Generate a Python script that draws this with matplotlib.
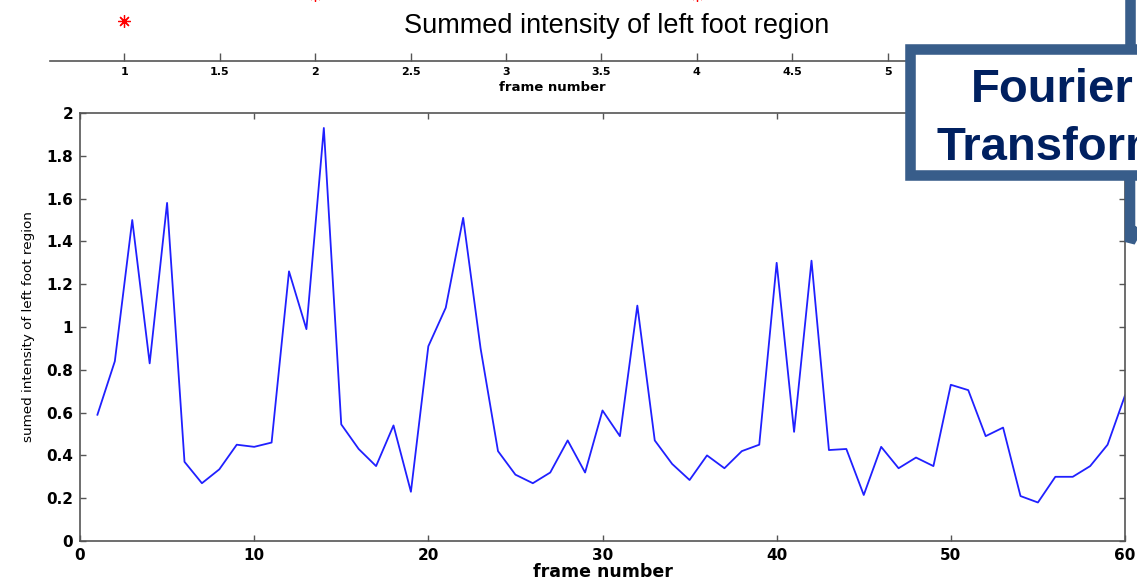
import matplotlib
matplotlib.use("Agg")
import matplotlib.pyplot as plt
from matplotlib.patches import Rectangle

# Bottom panel: summed intensity per frame
frames = list(range(1, 61))
intensity = [0.59, 0.84, 1.50, 0.83, 1.58, 0.37, 0.27, 0.335, 0.45, 0.44,
             0.46, 1.26, 0.99, 1.93, 0.545, 0.43, 0.35, 0.54, 0.23, 0.91,
             1.09, 1.51, 0.90, 0.42, 0.31, 0.27, 0.32, 0.47, 0.32, 0.61,
             0.49, 1.10, 0.47, 0.36, 0.285, 0.40, 0.34, 0.42, 0.45, 1.30,
             0.51, 1.31, 0.425, 0.43, 0.215, 0.44, 0.34, 0.39, 0.35, 0.73,
             0.705, 0.49, 0.53, 0.21, 0.18, 0.30, 0.30, 0.35, 0.45, 0.68]

# Top strip: only the lower edge of an earlier plot is visible
top_frames = [1, 2, 4]
top_values = [0.66, 1.09, 1.09]
top_ticks = [1, 1.5, 2, 2.5, 3, 3.5, 4, 4.5, 5]

W, H = 1137, 578
fig = plt.figure(figsize=(W / 100, H / 100), dpi=100)
fig.patch.set_facecolor("white")

spine_col = "#555555"

# ---- top strip axes ----
axt = fig.add_axes([50 / W, 1 - 61 / H, (1054 - 50) / W, 61 / H])
axt.plot(top_frames, top_values, linestyle="none", marker=(8, 2, 0),
         markersize=9, color="red", markeredgewidth=0.9, clip_on=False)
axt.set_xlim(0.612, 5.87)
axt.set_ylim(0, 1)
for s in ["top", "left", "right"]:
    axt.spines[s].set_visible(False)
axt.spines["bottom"].set_color(spine_col)
axt.spines["bottom"].set_linewidth(1.2)
axt.set_xticks(top_ticks)
axt.set_xticklabels([f"{t:g}" for t in top_ticks], fontsize=8, fontweight="bold")
axt.set_yticks([])
axt.tick_params(axis="x", direction="in", length=5.8, width=1, color=spine_col, pad=4.5)
axt.set_xlabel("frame number", fontsize=9.5, fontweight="bold", labelpad=2.5)
axt.patch.set_alpha(0)

# ---- main axes ----
ax = fig.add_axes([80 / W, 1 - 541 / H, (1125 - 80) / W, (541 - 113) / H])
ax.plot(frames, intensity, color="#2020ff", linewidth=1.3)
ax.set_xlim(0, 60)
ax.set_ylim(0, 2)
ax.set_xticks(range(0, 61, 10))
ax.set_yticks([0, 0.2, 0.4, 0.6, 0.8, 1, 1.2, 1.4, 1.6, 1.8, 2])
ax.set_yticklabels(["0", "0.2", "0.4", "0.6", "0.8", "1", "1.2", "1.4", "1.6", "1.8", "2"])
for s in ax.spines.values():
    s.set_color(spine_col)
    s.set_linewidth(1.2)
ax.tick_params(direction="in", top=True, right=True, length=4.5, width=1,
               color=spine_col, labelsize=11, pad=5)
for lab in ax.get_xticklabels() + ax.get_yticklabels():
    lab.set_fontweight("bold")
ax.set_xlabel("frame number", fontsize=12.5, fontweight="bold", labelpad=0)
ax.set_ylabel("sumed intensity of left foot region", fontsize=9.7, labelpad=8)

fig.text(617 / W, 1 - 33 / H, "Summed intensity of left foot region",
         ha="center", va="baseline", fontsize=19.5, family="Liberation Sans")

# ---- callout box overlay (pixel coordinates) ----
ov = fig.add_axes([0, 0, 1, 1], zorder=10)
ov.set_xlim(0, W)
ov.set_ylim(H, 0)
ov.axis("off")
ov.patch.set_alpha(0)
box_col = "#385D8A"
ov.add_patch(Rectangle((910, 48.7), 320, 126, facecolor="white",
                       edgecolor=box_col, linewidth=7.6, joinstyle="miter"))
ov.plot([1130, 1130], [-10, 48.7], color=box_col, linewidth=7.6, solid_capstyle="butt")
ov.plot([1130, 1130, 1146], [174.7, 242, 213], color=box_col, linewidth=7.6,
        solid_joinstyle="bevel", solid_capstyle="butt")
ov.text(1052, 102, "Fourier", ha="center", va="baseline", fontsize=34,
        fontweight="bold", color="#002060", family="Liberation Sans")
ov.text(1052, 160, "Transform", ha="center", va="baseline", fontsize=34,
        fontweight="bold", color="#002060", family="Liberation Sans")

fig.savefig("out.png", dpi=100)
